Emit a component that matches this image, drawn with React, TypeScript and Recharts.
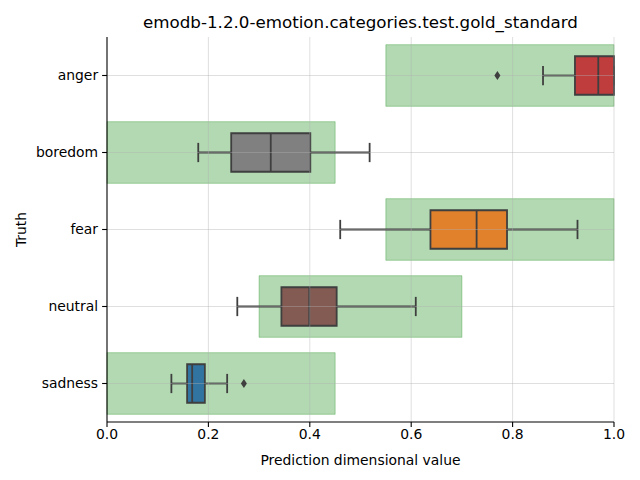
import { ComposedChart, XAxis, YAxis, Scatter, ReferenceArea, ReferenceLine } from "recharts"

const categories = ["anger", "boredom", "fear", "neutral", "sadness"]
const goldLow = [0.55, 0.0, 0.55, 0.3, 0.0]
const goldHigh = [1.0, 0.45, 1.0, 0.7, 0.45]
const whiskerLow = [0.86, 0.18, 0.46, 0.257, 0.127]
const q1 = [0.923, 0.245, 0.638, 0.344, 0.158]
const median = [0.969, 0.323, 0.729, 0.399, 0.168]
const q3 = [1.0, 0.401, 0.789, 0.453, 0.193]
const whiskerHigh = [1.0, 0.518, 0.928, 0.609, 0.237]
const boxColors = ["#c03d3e", "#808080", "#e1812c", "#845b53", "#3274a1"]
const outlierValues = [0.77, 0.27]
const outlierCategories = ["anger", "sadness"]
const xTicks = [0, 0.2, 0.4, 0.6, 0.8, 1.0]

const FONT = "DejaVu Sans, sans-serif"
const LINE = "#3f3f3f"
const FS = 13.9

const outliers = outlierValues.map((v, i) => ({ x: v, y: categories.indexOf(outlierCategories[i]) }))
const catIdx = categories.map((_, i) => i)

const Diamond = (props) => {
  const { cx, cy } = props
  return <path d={`M${cx},${cy - 4.5} L${cx + 3},${cy} L${cx},${cy + 4.5} L${cx - 3},${cy} Z`} fill={LINE} />
}

const App = () => {
  return (
    <div style={{ position: "absolute", left: 0, top: 0, width: 640, height: 480, background: "#fff" }}>
      <div style={{ position: "absolute", left: 107, width: 507, top: 13, textAlign: "center", fontFamily: FONT, fontSize: 16.7, lineHeight: "19px" }}>
        emodb-1.2.0-emotion.categories.test.gold_standard
      </div>
      <ComposedChart width={640} height={480} margin={{ top: 37, right: 26, left: 0, bottom: 0 }}>
        <XAxis
          type="number"
          dataKey="x"
          domain={[0, 1]}
          ticks={xTicks}
          tickFormatter={(v) => v.toFixed(1)}
          height={58}
          stroke="#000"
          strokeWidth={1.1}
          tickSize={4.9}
          tickMargin={2}
          tick={{ fill: "#000", fontSize: FS, fontFamily: FONT }}
          label={{ value: "Prediction dimensional value", position: "insideBottom", offset: 15, fill: "#000", fontSize: FS, fontFamily: FONT }}
        />
        <YAxis
          type="number"
          dataKey="y"
          domain={[-0.5, 4.5]}
          reversed
          ticks={catIdx}
          tickFormatter={(v) => categories[v] ?? ""}
          width={107}
          stroke="#000"
          strokeWidth={1.1}
          tickSize={4.9}
          tickMargin={4}
          tick={{ fill: "#000", fontSize: FS, fontFamily: FONT }}
          label={({ viewBox }) => (
            <text x={21} y={viewBox.y + viewBox.height / 2} transform={`rotate(-90, 21, ${viewBox.y + viewBox.height / 2})`} textAnchor="middle" dominantBaseline="central" fontSize={FS} fontFamily={FONT} fill="#000">
              Truth
            </text>
          )}
        />
        {catIdx.map((i) => (
          <ReferenceArea key={`g${i}`} x1={goldLow[i]} x2={goldHigh[i]} y1={i - 0.4} y2={i + 0.4} fill="green" fillOpacity={0.3} stroke="green" strokeOpacity={0.3} strokeWidth={1} />
        ))}
        {catIdx.map((i) => (
          <ReferenceLine key={`wl${i}`} segment={[{ x: whiskerLow[i], y: i }, { x: q1[i], y: i }]} stroke={LINE} strokeWidth={1.8} />
        ))}
        {catIdx.map((i) => (
          <ReferenceLine key={`wh${i}`} segment={[{ x: q3[i], y: i }, { x: whiskerHigh[i], y: i }]} stroke={LINE} strokeWidth={1.8} />
        ))}
        {catIdx.map((i) => (
          <ReferenceLine key={`cl${i}`} segment={[{ x: whiskerLow[i], y: i - 0.125 }, { x: whiskerLow[i], y: i + 0.125 }]} stroke={LINE} strokeWidth={1.8} />
        ))}
        {catIdx.map((i) => (
          <ReferenceLine key={`ch${i}`} segment={[{ x: whiskerHigh[i], y: i - 0.125 }, { x: whiskerHigh[i], y: i + 0.125 }]} stroke={LINE} strokeWidth={1.8} />
        ))}
        {catIdx.map((i) => (
          <ReferenceArea key={`b${i}`} x1={q1[i]} x2={q3[i]} y1={i - 0.25} y2={i + 0.25} fill={boxColors[i]} fillOpacity={1} stroke={LINE} strokeWidth={1.8} />
        ))}
        {catIdx.map((i) => (
          <ReferenceLine key={`m${i}`} segment={[{ x: median[i], y: i - 0.25 }, { x: median[i], y: i + 0.25 }]} stroke={LINE} strokeWidth={1.8} />
        ))}
        {xTicks.filter((t) => t > 0).map((t) => (
          <ReferenceLine key={`gx${t}`} x={t} stroke="#b0b0b0" strokeOpacity={0.5} strokeWidth={0.8} />
        ))}
        {catIdx.map((i) => (
          <ReferenceLine key={`gy${i}`} y={i} stroke="#b0b0b0" strokeOpacity={0.5} strokeWidth={0.8} />
        ))}
        <Scatter data={outliers} isAnimationActive={false} shape={<Diamond />} />
      </ComposedChart>
    </div>
  )
}

export default App
